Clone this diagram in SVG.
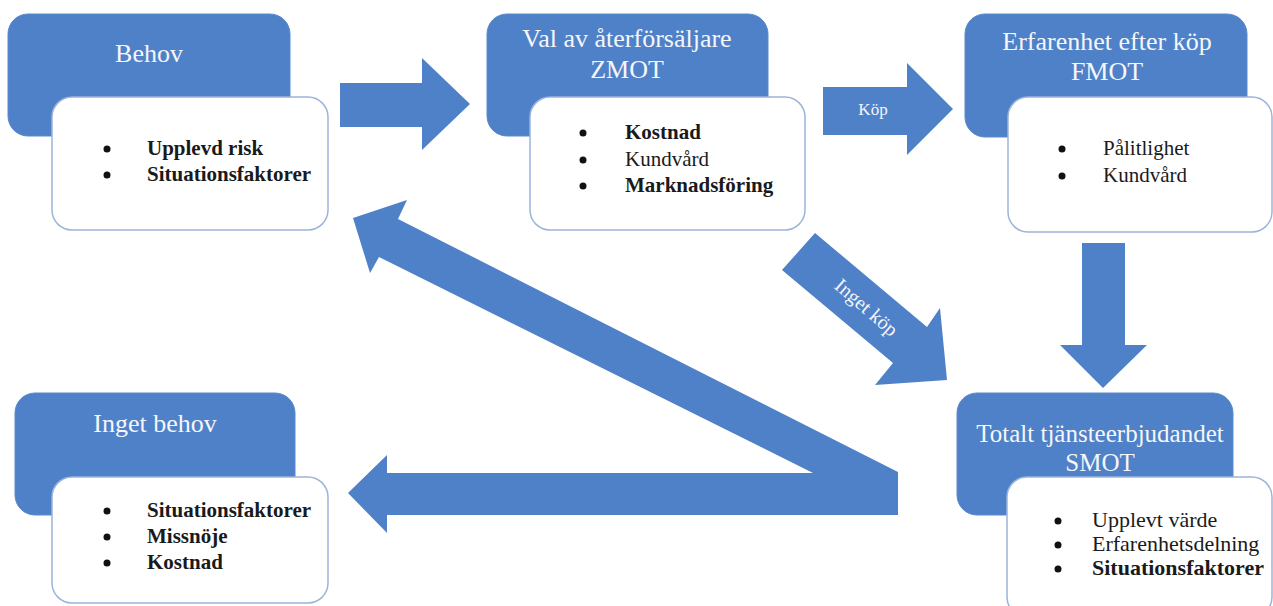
<svg xmlns="http://www.w3.org/2000/svg" width="1273" height="606" viewBox="0 0 1273 606">
  <style>
    .hd { fill: #4f81c8; stroke: #5a89cc; stroke-width: 1; }
    .bd { fill: #ffffff; stroke: #9cb4da; stroke-width: 1.5; }
    .ttl { font-family: "Liberation Serif", "Times New Roman", serif; font-size: 26px; fill: #f5f6f8; text-anchor: middle; }
    .it { font-family: "Liberation Serif", "Times New Roman", serif; font-size: 21px; fill: #1a1a1a; }
    .b { font-weight: bold; }
    .dot { fill: #111; }
    .arr { fill: #4f81c8; }
    .lbl { font-family: "Liberation Serif", "Times New Roman", serif; font-size: 17px; fill: #f2f4f8; text-anchor: middle; }
  </style>
  <rect width="1273" height="606" fill="#ffffff"/>

  <g id="connectors">
    <polygon class="arr" points="340,83 422,83 422,58 470,104 422,150 422,127 340,127"/>
    <polygon class="arr" points="823,87 907,87 907,63 953,109 907,155 907,135 823,135"/>
    <text class="lbl" x="873" y="115">Köp</text>
    <polygon class="arr" points="1082,243 1125,243 1125,345 1147,345 1103,388 1060,345 1082,345"/>
    <polygon class="arr" points="815,233 927,327 940,308 947,380 875,385 893,363 782,270"/>
    <text class="lbl" x="866" y="308" dy="6" style="font-size:20px" transform="rotate(41 866 308)">Inget köp</text>
    <path class="arr" d="M348,493 L387,455 L387,473 L813,473 L379,257 L370,273 L353,218 L407,200 L398,219 L898,472 L898,515 L387,515 L387,533 Z"/>
  </g>

  <g id="node-behov">
    <rect class="hd" x="8" y="14" width="282" height="122" rx="20"/>
    <text class="ttl" x="149" y="62">Behov</text>
    <rect class="bd" x="52" y="97" width="276" height="133" rx="20"/>
    <circle class="dot" cx="107" cy="149" r="3.5"/>
    <text class="it b" x="147" y="155">Upplevd risk</text>
    <circle class="dot" cx="107" cy="175" r="3.5"/>
    <text class="it b" x="147" y="181">Situationsfaktorer</text>
  </g>

  <g id="node-zmot">
    <rect class="hd" x="487" y="14" width="281" height="122" rx="20"/>
    <text class="ttl" x="627" y="47">Val av återförsäljare</text>
    <text class="ttl" x="627" y="78">ZMOT</text>
    <rect class="bd" x="530" y="97" width="275" height="133" rx="20"/>
    <circle class="dot" cx="583" cy="133" r="3.5"/>
    <text class="it b" x="625" y="139">Kostnad</text>
    <circle class="dot" cx="583" cy="160" r="3.5"/>
    <text class="it" x="625" y="166">Kundvård</text>
    <circle class="dot" cx="583" cy="186" r="3.5"/>
    <text class="it b" x="625" y="192">Marknadsföring</text>
  </g>

  <g id="node-fmot">
    <rect class="hd" x="965" y="14" width="282" height="123" rx="20"/>
    <text class="ttl" x="1107" y="50">Erfarenhet efter köp</text>
    <text class="ttl" x="1107" y="80">FMOT</text>
    <rect class="bd" x="1008" y="97" width="264" height="135" rx="20"/>
    <circle class="dot" cx="1062" cy="149" r="3.5"/>
    <text class="it" x="1103" y="155">Pålitlighet</text>
    <circle class="dot" cx="1062" cy="176" r="3.5"/>
    <text class="it" x="1103" y="182">Kundvård</text>
  </g>

  <g id="node-smot">
    <rect class="hd" x="957" y="393" width="276" height="122" rx="20"/>
    <text class="ttl" x="1100" y="442" style="font-size:25px">Totalt tjänsteerbjudandet</text>
    <text class="ttl" x="1100" y="471" style="font-size:25px">SMOT</text>
    <rect class="bd" x="1007" y="477" width="265" height="140" rx="20"/>
    <circle class="dot" cx="1058" cy="521" r="3.5"/>
    <text class="it" x="1092" y="527" style="font-size:22px">Upplevt värde</text>
    <circle class="dot" cx="1058" cy="545" r="3.5"/>
    <text class="it" x="1092" y="551" style="font-size:22px">Erfarenhetsdelning</text>
    <circle class="dot" cx="1058" cy="569" r="3.5"/>
    <text class="it b" x="1092" y="575" style="font-size:22px">Situationsfaktorer</text>
  </g>

  <g id="node-inget-behov">
    <rect class="hd" x="15" y="393" width="280" height="122" rx="20"/>
    <text class="ttl" x="155" y="432">Inget behov</text>
    <rect class="bd" x="52" y="477" width="276" height="126" rx="20"/>
    <circle class="dot" cx="107" cy="511" r="3.5"/>
    <text class="it b" x="147" y="517">Situationsfaktorer</text>
    <circle class="dot" cx="107" cy="537" r="3.5"/>
    <text class="it b" x="147" y="543">Missnöje</text>
    <circle class="dot" cx="107" cy="563" r="3.5"/>
    <text class="it b" x="147" y="569">Kostnad</text>
  </g>
</svg>
